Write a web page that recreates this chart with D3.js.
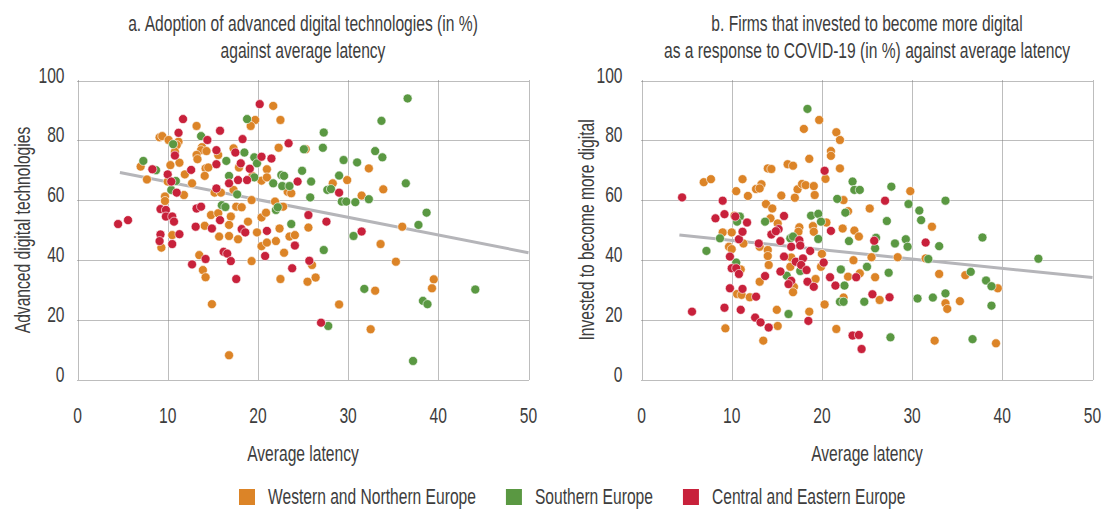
<!DOCTYPE html>
<html>
<head>
<meta charset="utf-8">
<script src="https://cdn.jsdelivr.net/npm/d3@7"></script>
<style>
  html, body { margin: 0; padding: 0; background: #fff; }
  svg { display: block; }
</style>
</head>
<body>
<svg id="chart" width="1103" height="510"></svg>
<script>
// categories + ticks
const regions = ["Western and Northern Europe", "Southern Europe", "Central and Eastern Europe"];
const regionColors = ["#dc8427", "#5a9842", "#c8213b"];
const xTicks = [0, 10, 20, 30, 40, 50];
const yTicks = [0, 20, 40, 60, 80, 100];

// panel a: [average latency, adoption %]
const adoptWest = [
  [21.7,91.5],[19.7,86.8],[22.5,86.8],[19.2,84.8],[13.2,84.8],[9.1,81.0],[9.4,81.4],[10.1,80.1],[11.2,79.5],
  [11.0,78.4],[22.3,77.5],[13.8,77.7],[13.7,76.7],[14.3,76.4],[17.3,77.3],[10.8,76.2],[13.2,75.1],[13.3,73.7],
  [11.3,72.5],[15.6,75.1],[17.9,70.9],[21.0,70.3],[7.0,71.2],[10.3,71.7],[14.2,70.6],[14.5,70.9],[11.9,68.6],
  [14.1,68.1],[19.4,68.1],[7.7,66.9],[10.0,66.2],[12.7,65.6],[20.4,66.5],[21.0,67.6],[23.3,62.8],[23.7,62.3],
  [11.8,61.7],[15.2,62.5],[15.9,62.5],[17.3,63.4],[19.3,60.0],[21.9,59.5],[22.8,57.8],[9.7,61.2],[9.7,59.7],
  [14.8,55.0],[15.6,55.6],[17.0,54.5],[17.6,57.8],[18.2,57.6],[18.9,52.8],[20.4,54.2],[20.9,55.8],[22.4,50.5],
  [16.8,51.7],[14.1,51.4],[25.3,77.0],[32.3,70.6],[28.3,65.6],[29.9,66.7],[31.5,61.5],[33.9,63.6],[36.0,51.1],
  [25.6,50.8],[33.6,45.3],[26.0,38.3],[35.3,39.4],[25.5,32.7],[26.4,34.1],[39.5,33.5],[39.3,30.5],[33.0,29.7],
  [29.0,25.1],[32.5,16.8],[19.9,49.2],[23.5,47.8],[24.1,48.3],[10.5,48.3],[9.3,44.1],[15.7,47.8],[16.8,48.0],
  [17.8,46.9],[20.4,44.6],[21.0,45.8],[22.0,46.3],[22.9,42.4],[13.5,41.6],[19.3,39.6],[13.9,36.6],[14.2,34.2],
  [22.5,33.6],[14.9,25.2],[16.8,8.1]
];
const adoptSouth = [
  [18.8,87.1],[13.7,81.4],[10.6,78.7],[18.5,75.9],[16.5,73.1],[19.6,74.3],[19.9,72.3],[7.3,73.1],[8.7,70.0],
  [16.8,68.1],[10.9,66.4],[19.6,67.6],[21.7,65.6],[22.6,68.4],[22.9,68.1],[22.7,64.7],[23.5,64.7],[10.4,63.4],
  [17.7,61.9],[22.0,56.7],[22.2,57.6],[16.0,58.3],[16.4,57.7],[23.7,52.0],[36.6,94.0],[33.7,86.5],[27.3,82.6],
  [25.1,77.0],[27.2,77.5],[33.0,76.4],[33.8,74.3],[29.5,73.4],[31.0,72.6],[24.9,69.8],[25.9,66.2],[29.0,68.2],
  [27.7,63.4],[28.1,63.7],[32.3,60.3],[29.3,59.5],[29.8,59.5],[30.8,59.3],[25.8,60.9],[36.4,65.6],[38.7,55.8],
  [37.8,51.7],[30.6,48.0],[27.3,43.3],[31.8,30.3],[44.1,30.1],[38.3,26.3],[38.8,25.2],[27.8,17.9],[37.2,6.2]
];
const adoptCentral = [
  [20.2,92.1],[11.7,87.1],[15.8,83.2],[11.2,82.5],[14.4,80.1],[18.3,80.4],[23.4,79.0],[15.4,76.7],[17.5,75.9],
  [10.8,74.9],[20.4,74.5],[21.5,73.9],[18.1,72.3],[15.4,72.0],[19.1,70.5],[8.3,70.3],[12.6,70.1],[10.0,68.6],
  [10.4,66.2],[16.8,65.6],[17.8,66.7],[18.8,66.7],[24.4,66.2],[11.0,62.5],[15.4,63.9],[9.2,57.0],[9.8,56.7],
  [9.8,54.5],[10.5,54.5],[10.7,52.8],[4.5,52.0],[5.6,53.3],[13.2,57.2],[13.7,57.8],[15.8,53.3],[13.1,51.1],
  [14.9,50.5],[18.2,50.3],[18.6,49.2],[21.0,49.7],[9.2,48.5],[9.1,46.3],[11.3,48.6],[10.5,45.3],[24.1,44.8],
  [20.8,41.3],[14.2,40.3],[16.2,42.7],[16.6,42.1],[17.0,39.6],[12.7,38.5],[17.6,33.6],[23.8,37.2],[25.6,55.0],
  [27.6,52.8],[31.5,49.5],[29.0,62.5],[25.7,39.7],[27.0,19.0]
];
const adoptTrend = [[4.7, 69.2], [50, 42.4]];

// panel b: [average latency, invested %]
const investWest = [
  [19.7,86.8],[18.0,83.8],[21.6,82.7],[22.0,80.1],[21.0,76.4],[21.0,74.8],[18.6,73.8],[16.2,72.0],[16.8,71.5],
  [22.0,70.6],[14.0,70.6],[14.4,70.4],[20.4,67.1],[6.9,66.0],[7.7,67.0],[11.2,67.0],[13.3,65.3],[12.7,63.7],
  [13.1,63.9],[10.5,63.0],[17.3,63.6],[17.8,65.4],[18.2,65.0],[19.1,64.7],[19.2,61.7],[15.5,61.5],[17.0,60.8],
  [11.8,61.4],[22.4,60.0],[22.9,56.3],[13.8,58.7],[14.5,57.2],[10.3,54.8],[14.3,53.9],[15.1,52.2],[20.5,52.5],
  [19.0,51.3],[17.5,50.9],[22.3,50.5],[23.6,49.8],[29.8,63.0],[25.3,57.2],[32.2,51.1],[9.0,49.2],[10.0,49.2],
  [9.7,44.4],[10.0,43.6],[11.3,45.5],[13.1,44.4],[14.0,43.3],[14.0,41.3],[14.1,38.3],[17.4,49.4],[19.1,49.4],
  [20.0,42.0],[24.1,47.8],[11.0,36.8],[16.6,40.8],[16.5,37.7],[19.9,37.7],[16.9,31.0],[16.8,29.2],[10.6,28.6],
  [11.1,28.3],[12.0,27.5],[13.1,32.7],[19.3,33.6],[23.5,39.9],[22.9,34.4],[24.2,35.5],[22.4,27.4],[20.3,25.1],
  [15.0,23.3],[18.6,22.7],[15.1,17.9],[9.3,17.1],[13.5,13.0],[21.6,16.9],[25.5,40.9],[28.4,40.9],[31.5,40.5],
  [25.9,34.2],[33.0,35.3],[35.9,34.9],[39.5,30.5],[26.4,26.6],[33.7,25.5],[33.9,23.6],[35.3,26.2],[32.5,13.0],
  [39.3,12.1]
];
const investSouth = [
  [18.4,90.5],[23.4,66.2],[23.6,63.4],[21.7,60.4],[22.6,55.8],[10.9,54.5],[10.6,52.8],[13.7,52.8],[18.8,54.8],
  [19.6,55.4],[19.9,52.8],[27.7,64.5],[29.6,58.7],[33.7,59.8],[30.8,56.5],[31.0,53.3],[27.2,53.0],[24.2,63.4],
  [8.7,47.2],[7.2,43.0],[16.5,47.2],[16.8,47.8],[19.6,47.0],[23.0,46.3],[10.5,39.1],[16.1,34.7],[17.6,36.3],
  [22.1,36.8],[22.5,31.4],[22.0,26.0],[22.4,26.0],[24.7,26.0],[16.3,21.9],[37.8,47.5],[26.0,47.4],[25.9,43.9],
  [28.1,45.5],[29.3,46.9],[29.5,44.4],[33.0,44.6],[31.8,40.3],[44.0,40.4],[25.0,37.7],[27.4,35.7],[36.5,36.0],
  [38.2,33.1],[38.8,31.2],[30.6,27.1],[32.3,27.4],[33.7,28.8],[38.8,24.7],[27.6,14.1],[36.7,13.5]
];
const investCentral = [
  [20.3,69.8],[4.5,60.9],[9.0,59.8],[9.2,55.3],[8.2,53.9],[10.4,54.5],[11.7,52.5],[15.8,54.7],[15.2,50.3],
  [27.0,59.8],[10.8,46.9],[11.2,49.4],[13.0,45.5],[14.4,48.5],[14.9,49.6],[15.4,46.3],[16.6,44.4],[17.5,46.6],
  [17.6,44.8],[18.7,43.0],[21.0,49.7],[9.8,41.1],[10.0,37.2],[10.5,37.2],[10.8,35.3],[15.8,41.1],[17.1,39.4],
  [17.9,40.5],[17.7,38.3],[18.3,36.6],[20.2,39.1],[15.4,36.1],[16.6,33.0],[16.3,31.9],[13.7,34.6],[9.8,30.5],
  [11.2,30.3],[12.7,27.7],[18.4,32.7],[19.1,31.0],[20.9,34.2],[21.5,31.4],[23.8,34.2],[5.6,22.7],[9.2,24.0],
  [11.0,23.3],[18.5,19.6],[12.6,20.7],[13.2,19.1],[14.1,17.4],[23.4,14.7],[24.1,14.9],[24.4,10.2],[25.8,46.4],
  [31.5,45.8],[25.6,28.5],[27.5,27.5]
];
const investTrend = [[4.2, 48.3], [50, 34.1]];

const panels = [
  {
    title: ["a. Adoption of advanced digital technologies (in %)", "against average latency"],
    yLabel: "Advanced digital technologies",
    series: [adoptWest, adoptSouth, adoptCentral],
    trend: adoptTrend,
    x0: 77.5, x1: 528.5, tickGap: 13, yLabelX: 30
  },
  {
    title: ["b. Firms that invested to become more digital", "as a response to COVID-19 (in %) against average latency"],
    yLabel: "Invested to become more digital",
    series: [investWest, investSouth, investCentral],
    trend: investTrend,
    x0: 641.5, x1: 1092.5, tickGap: 19, yLabelX: 594
  }
];

const svg = d3.select("#chart");
const textColor = "#3d3d3d";
const fontSize = 22;
const squeeze = 0.71; // narrow look, like the condensed font of the original

// text squeezed sideways (the original uses a condensed face)
function label(parent, str, px, py, anchor, rot) {
  return parent.append("text")
    .attr("transform", `translate(${px},${py})` + (rot ? ` rotate(${rot})` : "") + ` scale(${squeeze},1)`)
    .attr("text-anchor", anchor)
    .attr("font-family", "'Liberation Sans', Arial, sans-serif")
    .attr("font-size", fontSize)
    .attr("fill", textColor)
    .text(str);
}

const y = d3.scaleLinear().domain([0, 100]).range([379.5, 80.5]);

panels.forEach(p => {
  const x = d3.scaleLinear().domain([0, 50]).range([p.x0, p.x1]);
  const g = svg.append("g");
  const cx = (p.x0 + p.x1) / 2;

  // dotted grid (also forms the frame)
  g.selectAll(".vgrid").data(xTicks).enter().append("line")
    .attr("x1", d => Math.round(x(d)) + 0.5).attr("x2", d => Math.round(x(d)) + 0.5)
    .attr("y1", y(0)).attr("y2", y(100))
    .attr("stroke", "#7a7a7a").attr("stroke-width", 1)
    .attr("stroke-dasharray", "1,1");
  g.selectAll(".hgrid").data(yTicks).enter().append("line")
    .attr("x1", x(0)).attr("x2", x(50))
    .attr("y1", d => Math.round(y(d)) + 0.5).attr("y2", d => Math.round(y(d)) + 0.5)
    .attr("stroke", "#7a7a7a").attr("stroke-width", 1)
    .attr("stroke-dasharray", "1,1");

  // tick labels
  yTicks.forEach(t => label(g, t, x(0) - p.tickGap, y(t) + 2, "end"));
  xTicks.forEach(t => label(g, t, x(t), y(0) + 43, "middle"));

  // titles + axis titles
  p.title.forEach((line, i) => label(g, line, cx, 31 + i * 27, "middle"));
  label(g, "Average latency", cx, 461, "middle");
  label(g, p.yLabel, p.yLabelX, (y(0) + y(100)) / 2, "middle", -90);

  // trend line
  g.append("line")
    .attr("x1", x(p.trend[0][0])).attr("y1", y(p.trend[0][1]))
    .attr("x2", x(p.trend[1][0])).attr("y2", y(p.trend[1][1]))
    .attr("stroke", "#b5b5b9").attr("stroke-width", 3);

  // dots
  p.series.forEach((pts, i) => {
    g.append("g").selectAll("circle").data(pts).enter().append("circle")
      .attr("cx", d => x(d[0])).attr("cy", d => y(d[1]))
      .attr("r", 4.5)
      .attr("fill", regionColors[i])
      .attr("stroke", "#fff").attr("stroke-width", 0.6);
  });
});

// legend
const legend = svg.append("g");
let lx = 239;
regions.forEach((name, i) => {
  legend.append("rect")
    .attr("x", lx).attr("y", 489).attr("width", 16).attr("height", 16)
    .attr("fill", regionColors[i]);
  const t = label(legend, name, lx + 29, 504, "start");
  lx += 29 + t.node().getComputedTextLength() * squeeze + 30;
});
</script>
</body>
</html>
